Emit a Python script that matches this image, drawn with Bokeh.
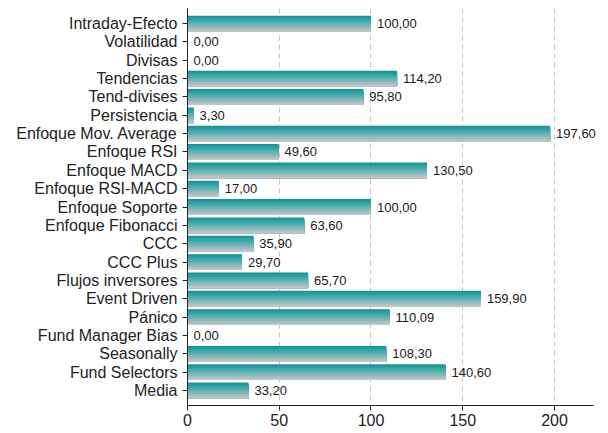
import numpy as np
from bokeh.plotting import figure
from bokeh.models import Range1d, FixedTicker, ColumnDataSource, LabelSet
from bokeh.embed import file_html
from bokeh.resources import INLINE
from bokeh.core.properties import value

categories = ["Intraday-Efecto", "Volatilidad", "Divisas", "Tendencias", "Tend-divises",
              "Persistencia", "Enfoque Mov. Average", "Enfoque RSI", "Enfoque MACD",
              "Enfoque RSI-MACD", "Enfoque Soporte", "Enfoque Fibonacci", "CCC", "CCC Plus",
              "Flujos inversores", "Event Driven", "Pánico", "Fund Manager Bias",
              "Seasonally", "Fund Selectors", "Media"]
values = [100.0, 0.0, 0.0, 114.2, 95.8, 3.3, 197.6, 49.6, 130.5, 17.0, 100.0, 63.6,
          35.9, 29.7, 65.7, 159.9, 110.09, 0.0, 108.3, 140.6, 33.2]
labels = ["100,00", "0,00", "0,00", "114,20", "95,80", "3,30", "197,60", "49,60", "130,50",
          "17,00", "100,00", "63,60", "35,90", "29,70", "65,70", "159,90", "110,09", "0,00",
          "108,30", "140,60", "33,20"]
x_ticks = [0, 50, 100, 150, 200]
x_axis_end = 221.3

FONT = "Liberation Sans"
n = len(categories)
pos = np.arange(n, dtype=float)

# frame is a little wider than the drawn axis so the longest value label is not clipped
p = figure(width=608, height=433, output_backend="svg", toolbar_location=None,
           x_range=Range1d(0, 227.8), y_range=Range1d(n - 1 + 0.82, -0.82),
           min_border_left=187, min_border_right=3, min_border_top=8, min_border_bottom=28)
p.background_fill_color = "white"
p.border_fill_color = "white"
p.outline_line_color = None

# gradient bars: stacked slices from top to bottom
top_rgb = np.array([6, 152, 156])
bot_rgb = np.array([198, 198, 198])
bar_h = 0.86
N = 24
vals = np.array(values)
for k in range(N):
    t = k / (N - 1)
    rgb = (top_rgb * (1 - t) + bot_rgb * t).round().astype(int)
    color = "#%02x%02x%02x" % tuple(rgb)
    tops = pos - bar_h / 2 + k * bar_h / N
    bottoms = pos + bar_h / 2
    src = ColumnDataSource(dict(y=(tops + bottoms) / 2, h=bottoms - tops, right=vals))
    p.hbar(y="y", height="h", left=0, right="right", source=src,
           fill_color=color, line_color=None)

lsrc = ColumnDataSource(dict(x=vals, y=pos, text=labels))
p.add_layout(LabelSet(x="x", y="y", text="text", source=lsrc, x_offset=6,
                      text_baseline="middle", text_align="left",
                      text_font_size=value("13px"), text_font=value(FONT),
                      text_color=value("#1a1a1a")))

p.yaxis.ticker = FixedTicker(ticks=list(pos))
p.yaxis.major_label_overrides = {float(i): c for i, c in enumerate(categories)}
p.xaxis.ticker = FixedTicker(ticks=x_ticks)
p.xaxis.bounds = (0, x_axis_end)
for ax in (p.xaxis, p.yaxis):
    ax.minor_tick_line_color = None
    ax.major_tick_in = 0
    ax.major_tick_out = 5
    ax.axis_line_color = "#222222"
    ax.major_tick_line_color = "#222222"
    ax.major_label_text_font = FONT
    ax.major_label_text_font_size = "16px"
    ax.major_label_text_color = "#222222"
p.yaxis.major_label_standoff = 5
p.xaxis.major_label_standoff = 3

p.ygrid.grid_line_color = None
p.xgrid.ticker = FixedTicker(ticks=x_ticks)
p.xgrid.grid_line_color = "#c4c4c4"
p.xgrid.grid_line_dash = "5 4"
p.xgrid.grid_line_width = 1

open("out.html", "w").write(file_html(p, INLINE))
